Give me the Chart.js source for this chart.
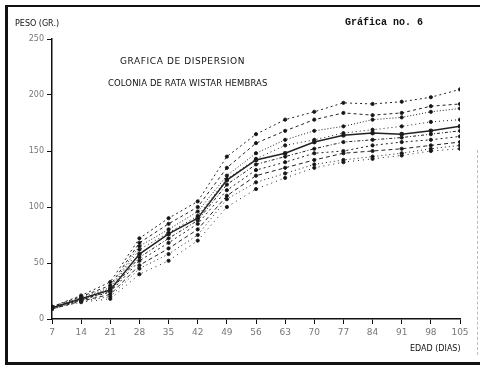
<!DOCTYPE html>
<html>
<head>
<meta charset="utf-8">
<script src="https://cdn.jsdelivr.net/npm/chart.js@4"></script>
<style>
  html, body { margin: 0; padding: 0; background: #fff; }
  #wrap { position: relative; width: 480px; height: 366px; overflow: hidden; }
  #chart { position: absolute; left: 0; top: 0; }
  .frame { position: absolute; left: 5px; top: 5px; width: 480px; height: 355px;
           border-left: 3px solid #111; border-top: 2px solid #111; border-bottom: 3px solid #111; pointer-events: none; }
  .edge { position: absolute; left: 477px; top: 150px; height: 205px; border-left: 1px dashed #bbb; }
  .txt { position: absolute; color: #111; white-space: nowrap; }
  .plot { font-family: "DejaVu Sans", sans-serif; }
</style>
</head>
<body>
<div id="wrap">
  <canvas id="chart" width="480" height="366"></canvas>
  <div class="frame"></div>
  <div class="edge"></div>
  <div class="txt plot" style="left:15px;top:19px;font-size:8px;">PESO (GR.)</div>
  <div class="txt" style="left:345px;top:17px;font-family:'Liberation Mono',monospace;font-size:10px;font-weight:bold;">Gráfica no. 6</div>
  <div class="txt plot" style="left:120px;top:56px;font-size:9px;letter-spacing:0.6px;">GRAFICA DE DISPERSION</div>
  <div class="txt plot" style="left:108px;top:78px;font-size:8.5px;letter-spacing:0.1px;">COLONIA DE RATA WISTAR HEMBRAS</div>
  <div class="txt plot" style="left:410px;top:344px;font-size:8px;">EDAD (DIAS)</div>
</div>
<script>
// edad en dias
const days = [7, 14, 21, 28, 35, 42, 49, 56, 63, 70, 77, 84, 91, 98, 105];
// peso (gr.) de cada rata
const rataA = [11, 21, 33, 72, 90, 105, 145, 165, 178, 185, 193, 192, 194, 198, 205];
const rataB = [11, 20, 30, 68, 85, 100, 135, 157, 168, 178, 184, 182, 184, 190, 192];
const rataC = [10, 19, 28, 65, 80, 96, 128, 148, 160, 168, 172, 178, 180, 185, 188];
const rataD = [10, 18, 27, 62, 77, 92, 125, 143, 155, 160, 166, 169, 172, 176, 178];
const rataE = [10, 18, 26, 58, 76, 90, 124, 142, 148, 158, 164, 166, 165, 168, 172];
const rataF = [10, 17, 25, 55, 72, 88, 120, 138, 145, 152, 158, 160, 162, 165, 168];
const rataG = [10, 17, 24, 52, 68, 85, 115, 133, 140, 148, 150, 155, 158, 160, 163];
const rataH = [9, 16, 22, 48, 63, 80, 110, 128, 135, 142, 148, 150, 152, 155, 158];
const rataI = [9, 16, 20, 45, 58, 75, 107, 122, 130, 138, 142, 145, 148, 152, 155];
const rataJ = [9, 15, 18, 40, 52, 70, 100, 116, 126, 135, 140, 143, 146, 150, 152];
const yTicks = [0, 50, 100, 150, 200, 250];

const series = [rataA, rataB, rataC, rataD, rataE, rataF, rataG, rataH, rataI, rataJ];
const dashes = [[2, 3], [3, 3], [1, 2], [1, 3], [], [3, 2, 1, 2], [2, 3], [4, 3], [1, 3], [1, 4]];

const datasets = series.map((vals, i) => ({
  data: vals.map((v, k) => ({ x: days[k], y: v })),
  borderColor: '#222',
  backgroundColor: '#111',
  borderWidth: i === 4 ? 1.5 : 1,
  borderDash: dashes[i],
  pointRadius: 1.6,
  pointHoverRadius: 1.6,
  tension: 0,
}));

new Chart(document.getElementById('chart').getContext('2d'), {
  type: 'line',
  data: { datasets },
  options: {
    responsive: false,
    animation: false,
    layout: { padding: { left: 0, top: 39, right: 20, bottom: 0 } },
    plugins: { legend: { display: false }, tooltip: { enabled: false } },
    scales: {
      x: {
        type: 'linear', min: 7, max: 105,
        afterBuildTicks: (s) => { s.ticks = days.map(v => ({ value: v })); },
        afterFit: (s) => { s.height = 47; },
        ticks: { color: '#777', font: { family: 'DejaVu Sans', size: 9 }, padding: 3, maxRotation: 0, autoSkip: false },
        grid: { drawOnChartArea: false, color: '#111', tickLength: 5, tickWidth: 1 },
        border: { color: '#111', width: 1.5 },
      },
      y: {
        min: 0, max: 250,
        afterBuildTicks: (s) => { s.ticks = yTicks.map(v => ({ value: v })); },
        afterFit: (s) => { s.width = 52; },
        ticks: { color: '#777', font: { family: 'DejaVu Sans', size: 8 }, padding: 3 },
        grid: { drawOnChartArea: false, color: '#111', tickLength: 5, tickWidth: 1 },
        border: { color: '#111', width: 1.5 },
      },
    },
  },
});
</script>
</body>
</html>
